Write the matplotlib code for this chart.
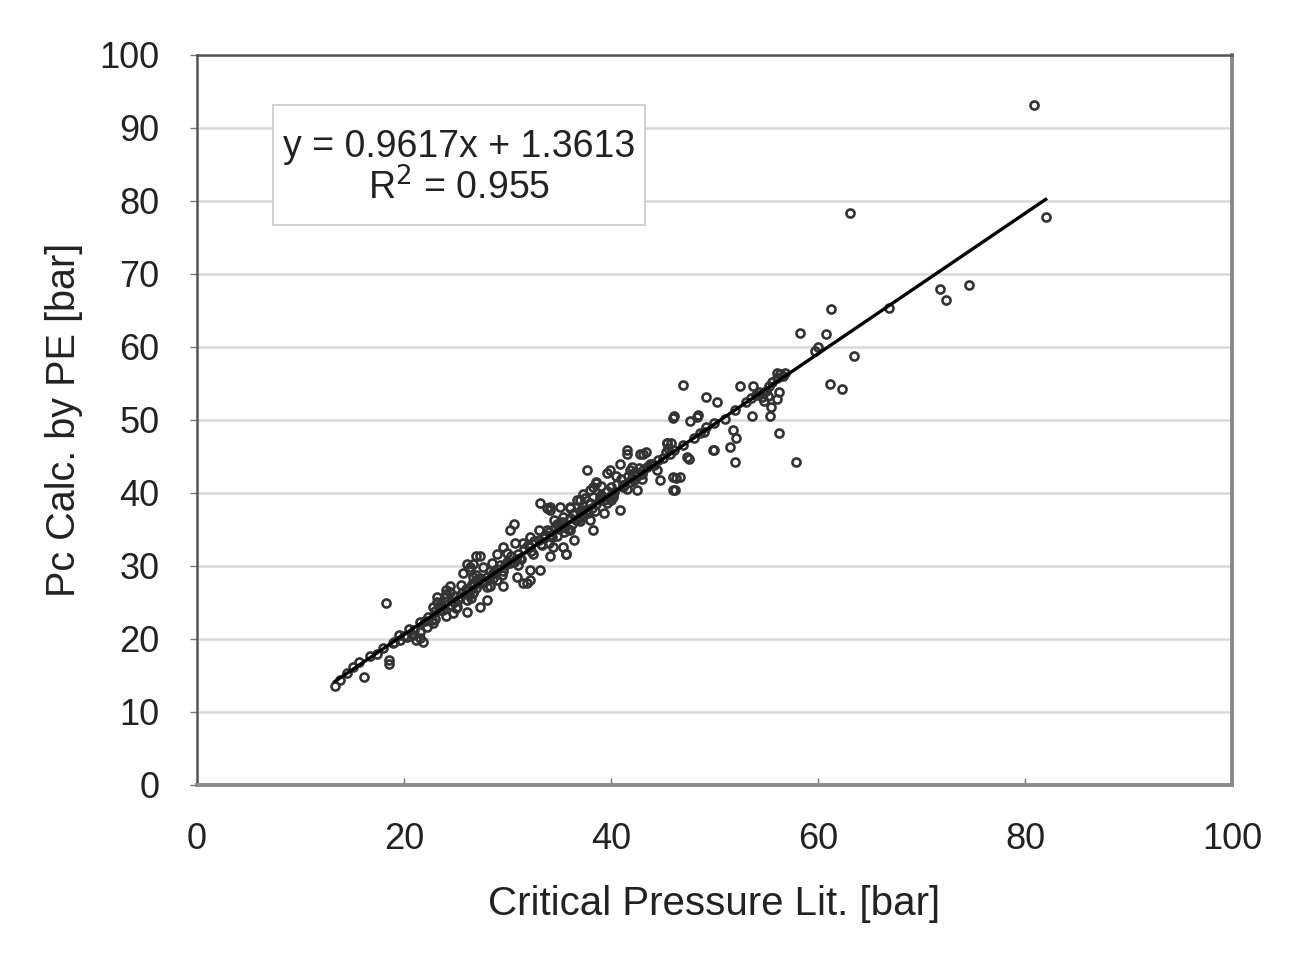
import numpy as np
import matplotlib
matplotlib.use("Agg")
import matplotlib.pyplot as plt
from matplotlib.patches import Rectangle

plt.rcParams["font.family"] = ["Liberation Sans", "DejaVu Sans"]

# ---------------- data ----------------
# low end / tail (x < 30)
x_low = [13.3, 13.8, 16.1, 14.5, 15.1, 15.7, 16.7, 17.4, 18.6, 18.6, 18.3, 18.0,
         18.9, 19.6, 20.3, 20.9, 21.2, 21.8, 21.5, 22.2, 22.8, 23.0, 23.2, 22.8,
         23.5, 24.1, 24.7, 24.4, 25.1, 25.4, 26.1, 26.1, 26.7, 27.0, 25.7, 26.4,
         27.3, 28.0, 28.3, 28.6, 27.6, 21.5, 24.1]
y_low = [13.5, 14.4, 14.8, 15.3, 16.2, 16.9, 17.6, 18.0, 17.1, 16.6, 24.9, 18.8,
         19.4, 19.9, 20.3, 20.5, 19.9, 19.6, 21.0, 21.7, 22.2, 22.8, 25.1, 24.4,
         24.0, 23.1, 23.6, 26.5, 24.4, 25.8, 25.3, 23.7, 26.3, 28.1, 29.0, 29.9,
         24.4, 25.3, 27.2, 29.0, 29.9, 20.1, 26.7]

# middle scatter (30 .. 40)
x_mid = [30.6, 30.2, 30.7, 33.1, 33.8, 35.7, 32.2, 32.2, 31.9, 27.3, 26.7, 26.4,
         24.4, 24.1, 23.2, 26.7, 29.0, 29.6, 30.9, 31.5, 29.0, 29.6, 32.2, 33.8,
         34.8, 35.4, 36.0, 36.7, 37.3, 38.3, 38.6, 38.3, 38.0, 36.4, 35.4, 33.1,
         34.4, 34.1, 36.0, 37.0, 37.7, 38.9, 39.3, 27.0, 26.1, 34.1]
y_mid = [35.8, 34.9, 33.1, 38.6, 37.9, 31.7, 28.1, 29.5, 27.6, 31.3, 30.3, 29.5,
         27.2, 26.2, 25.8, 28.5, 28.1, 27.2, 28.5, 27.7, 31.7, 32.6, 34.0, 34.9,
         35.8, 36.7, 38.1, 39.0, 39.9, 40.8, 41.3, 34.9, 36.3, 33.6, 32.6, 29.5,
         32.6, 31.3, 34.9, 36.7, 37.7, 39.0, 37.2, 31.3, 30.3, 38.1]

# upper scatter (37 .. 50)
x_up = [37.7, 41.5, 42.8, 43.4, 40.9, 39.6, 38.6, 38.0, 42.5, 40.9, 35.7, 45.4,
        45.7, 46.0, 46.7, 46.0, 47.3, 49.9, 44.7, 44.4, 43.8, 41.8, 40.2, 38.9,
        37.0, 35.1, 34.1, 36.4, 37.3, 39.6, 41.2, 42.2, 43.1, 48.6, 49.2, 43.1,
        48.3, 39.9, 41.5]
y_up = [43.2, 45.9, 45.4, 45.6, 44.0, 42.7, 41.5, 40.4, 40.4, 37.7, 31.7, 46.8,
        45.4, 42.2, 42.2, 40.4, 44.9, 45.9, 41.8, 43.2, 44.0, 43.2, 39.5, 39.5,
        39.0, 38.1, 37.7, 37.2, 37.7, 38.6, 40.8, 41.8, 43.2, 48.2, 49.1, 45.4,
        50.4, 43.2, 45.4]

# dense core along the trend
x_core = [19.0, 19.5, 20.0, 20.5, 21.0, 21.5, 22.0, 22.3, 22.7, 23.0, 23.4, 23.8,
          24.2, 24.5, 24.9, 25.2, 25.6, 26.0, 26.3, 26.6, 27.0, 27.3, 27.6, 28.0,
          28.3, 28.6, 29.0, 29.3, 29.6, 30.0, 30.3, 30.6, 31.0, 31.3, 31.6, 32.0,
          32.3, 32.6, 33.0, 33.3, 33.6, 34.0, 34.3, 34.6, 35.0, 35.3, 35.6, 36.0,
          36.3, 36.6, 37.0, 37.3, 37.6, 38.0, 38.3, 38.6, 39.0, 39.3, 39.6, 40.0,
          40.3, 40.6, 41.0, 41.3, 41.6, 42.0, 42.3, 42.7, 43.0, 43.5, 44.0, 44.5,
          45.0, 45.3, 45.5, 45.8, 46.1,
          25.0, 26.5, 28.0, 29.5, 31.0, 32.5, 34.0, 35.5, 37.0, 38.5, 40.0, 41.5,
          43.0, 24.0, 25.5, 27.0, 28.5, 30.0, 31.5, 33.0, 34.5, 36.0, 37.5, 39.0,
          40.5, 42.0,
          23.6, 24.8, 26.2, 27.5, 28.8, 30.2, 31.2, 32.2, 33.2, 34.2, 35.2, 36.2,
          37.2, 38.2, 39.2, 40.2, 41.2, 42.5, 44.2, 33.5, 34.8, 35.8, 36.8, 30.8,
          29.8, 27.8, 26.8, 37.8, 39.8, 41.8]
y_core = [19.6, 20.5, 20.4, 21.4, 21.2, 22.3, 22.5, 23.0, 22.6, 23.8, 24.4, 24.0,
          25.2, 24.6, 25.9, 25.4, 26.3, 26.9, 26.0, 27.5, 27.0, 28.3, 27.6, 28.5,
          29.3, 28.4, 29.6, 30.2, 29.3, 30.6, 31.4, 30.5, 31.7, 31.0, 32.3, 32.9,
          32.1, 33.4, 33.6, 32.9, 34.3, 34.7, 34.0, 35.4, 35.1, 36.0, 35.4, 36.6,
          37.1, 36.3, 37.5, 38.2, 37.4, 38.6, 39.4, 38.5, 39.7, 39.0, 40.3, 40.8,
          40.1, 41.2, 41.9, 41.1, 42.3, 42.0, 42.9, 43.4, 42.6, 43.6, 44.0, 44.5,
          44.8, 45.6, 46.2, 46.8, 45.9,
          24.2, 25.6, 27.1, 28.7, 30.2, 31.6, 33.1, 34.6, 36.1, 37.5, 39.1, 40.6,
          41.9, 25.8, 27.4, 28.8, 30.4, 31.8, 33.2, 34.9, 36.3, 37.9, 39.3, 41.0,
          42.3, 43.6,
          24.5, 25.0, 26.6, 28.0, 29.0, 30.4, 31.1, 32.6, 33.0, 34.3, 35.4, 35.8,
          37.1, 38.0, 39.4, 39.9, 41.1, 42.3, 43.8, 33.9, 34.1, 35.1, 36.4, 30.9,
          30.2, 28.0, 27.4, 37.2, 39.5, 41.5]

# 45 .. 60 region
x_hi = [47.0, 49.2, 50.2, 46.0, 46.1, 47.6, 48.4, 52.5, 53.7, 56.0, 56.8, 54.7,
        53.6, 55.4, 56.2, 51.8, 52.1, 51.5, 50.0, 47.5, 52.0, 57.9, 45.4, 46.3,
        46.2, 47.0, 48.0, 49.0, 50.0, 51.0, 52.0, 53.0, 53.5, 54.0, 54.3, 54.6,
        55.0, 55.3, 55.6, 56.0, 56.3, 56.6, 55.2, 54.8, 55.5, 56.0, 56.2, 59.7,
        60.0]
y_hi = [54.8, 53.2, 52.5, 50.3, 50.5, 49.8, 50.7, 54.6, 54.6, 56.4, 56.4, 53.7,
        50.5, 50.5, 48.2, 48.6, 47.5, 46.3, 45.9, 44.7, 44.3, 44.3, 46.8, 42.0,
        40.4, 46.6, 47.5, 48.3, 49.6, 50.2, 51.4, 52.5, 53.0, 53.4, 53.8, 53.2,
        54.0, 54.6, 55.2, 55.8, 56.3, 56.0, 53.3, 52.6, 51.8, 52.9, 53.8, 59.5,
        60.0]

# isolated points above 58
x_out = [80.9, 82.0, 63.1, 74.6, 71.8, 72.4, 66.9, 61.3, 58.3, 60.8, 63.5, 61.2,
         62.3]
y_out = [93.2, 77.8, 78.4, 68.5, 67.9, 66.4, 65.3, 65.2, 61.9, 61.8, 58.7, 54.9,
         54.2]

x_all = np.array(x_low + x_mid + x_up + x_core + x_hi + x_out)
y_all = np.array(y_low + y_mid + y_up + y_core + y_hi + y_out)

# trend line coefficients as printed on the chart
slope, intercept = 0.9617, 1.3613
r2 = 0.955

# ---------------- figure ----------------
fig = plt.figure(figsize=(12.96, 9.64), dpi=100)
ax = fig.add_axes([0.152, 0.1857, 0.7986, 0.7573])

ax.set_xlim(0, 100)
ax.set_ylim(0, 100)
ax.set_xticks(np.arange(0, 101, 20))
ax.set_yticks(np.arange(0, 101, 10))
ax.yaxis.grid(True, color="#d9d9d9", lw=1.8)
ax.set_axisbelow(True)

ax.plot(x_all, y_all, ls="none", marker="o", ms=5.8, mfc="none",
        mec="#333333", mew=1.9)

xl = np.array([x_all.min(), x_all.max()])
ax.plot(xl, slope * xl + intercept, color="black", lw=2.4)

for side in ("left", "top"):
    ax.spines[side].set_color("#555555")
    ax.spines[side].set_linewidth(1.8)
for side in ("right", "bottom"):
    ax.spines[side].set_color("#8a8a8a")
    ax.spines[side].set_linewidth(2.8)

ax.tick_params(axis="y", direction="out", length=5, width=1, color="#777777",
               labelsize=26, pad=22, labelcolor="#222222")
ax.tick_params(axis="x", direction="in", length=5, width=1, color="#777777",
               labelsize=26, pad=27, labelcolor="#222222")

ax.set_xlabel("Critical Pressure Lit. [bar]", fontsize=29, color="#222222",
              labelpad=20)
ax.set_ylabel("Pc Calc. by PE [bar]", fontsize=28.5, color="#222222",
              labelpad=12)

# equation box
ax.add_patch(Rectangle((0.0734, 0.767), 0.3595, 0.1645, transform=ax.transAxes,
                       fc="white", ec="#d0d0d0", lw=1.4, zorder=5))
ax.text(0.2531, 0.874, f"y = {slope}x + {intercept}", transform=ax.transAxes,
        ha="center", va="center", fontsize=27, color="#222222", zorder=6)
ax.text(0.2531, 0.818, f"R$^2$ = {r2}", transform=ax.transAxes,
        ha="center", va="center", fontsize=27, color="#222222", zorder=6)

fig.savefig("out.png", dpi=100)
